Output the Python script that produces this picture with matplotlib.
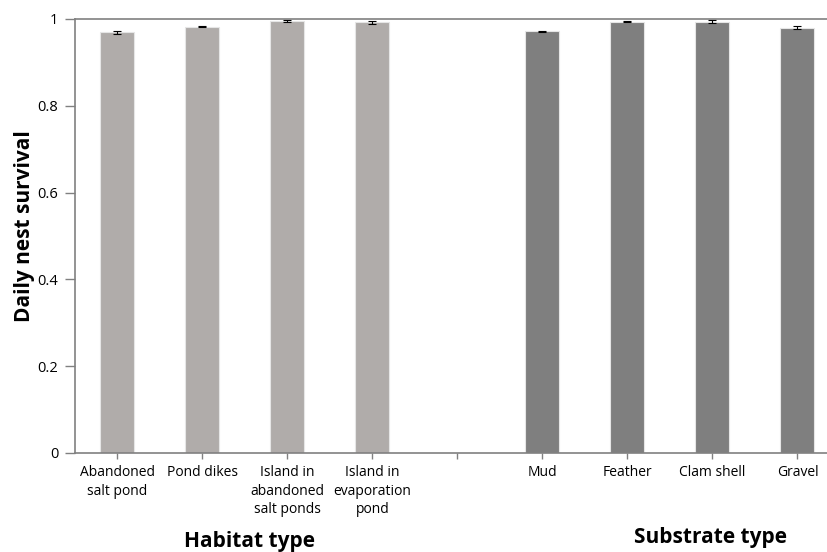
import numpy as np
from matplotlib import pyplot as plt

# category labels, one empty slot between the two groups
labels = ["Abandoned\nsalt pond", "Pond dikes", "Island in\nabandoned\nsalt ponds",
          "Island in\nevaporation\npond", "", "Mud", "Feather", "Clam shell", "Gravel"]
survival = [0.969, 0.982, 0.995, 0.992, np.nan, 0.972, 0.994, 0.994, 0.980]
err = [0.004, 0.001, 0.003, 0.003, 0, 0.001, 0.002, 0.004, 0.004]
group = ["habitat"] * 4 + [""] + ["substrate"] * 4

colors = {"habitat": "#B0ACAA", "substrate": "#7F7F7F", "": "white"}

plt.rcParams['font.family'] = ['Open Sans', 'DejaVu Sans']

fig = plt.figure(figsize=(8.28, 5.52), dpi=100)
ax = fig.add_axes([75 / 828, 99 / 552, 765 / 828, 434 / 552])

x = np.arange(len(labels))
for i in range(len(labels)):
    if np.isnan(survival[i]):
        continue
    ax.bar(x[i], survival[i], width=0.4, color=colors[group[i]],
           edgecolor="#E6E6E6", linewidth=0.8, zorder=2)
    ax.errorbar(x[i], survival[i], yerr=err[i], fmt="none", ecolor="black",
                elinewidth=0.8, capsize=3, capthick=0.8, zorder=3)

ax.set_xlim(-0.5, 8.5)
ax.set_ylim(0, 1)
ax.set_yticks([0, 0.2, 0.4, 0.6, 0.8, 1])
ax.set_yticklabels(["0", "0.2", "0.4", "0.6", "0.8", "1"])
ax.set_xticks(x)
ax.set_xticklabels(labels, fontsize=10, linespacing=1.3)

for s in ["left", "bottom", "top"]:
    ax.spines[s].set_color("#808080")
    ax.spines[s].set_linewidth(1.2)
ax.spines["right"].set_visible(False)
ax.tick_params(axis="both", colors="#808080", labelcolor="black", width=1)
ax.tick_params(axis="y", labelsize=10.5, length=7, pad=5)
ax.tick_params(axis="x", length=4, pad=5)

fig.text(25 / 828, 1 - 226 / 552, "Daily nest survival", fontsize=15, fontweight="bold",
         rotation=90, ha="center", va="center")
fig.text(250 / 828, 1 - 541 / 552, "Habitat type", fontsize=15, fontweight="bold",
         ha="center", va="center")
fig.text(711 / 828, 1 - 538 / 552, "Substrate type", fontsize=15, fontweight="bold",
         ha="center", va="center")

fig.savefig("out.png", dpi=100)
